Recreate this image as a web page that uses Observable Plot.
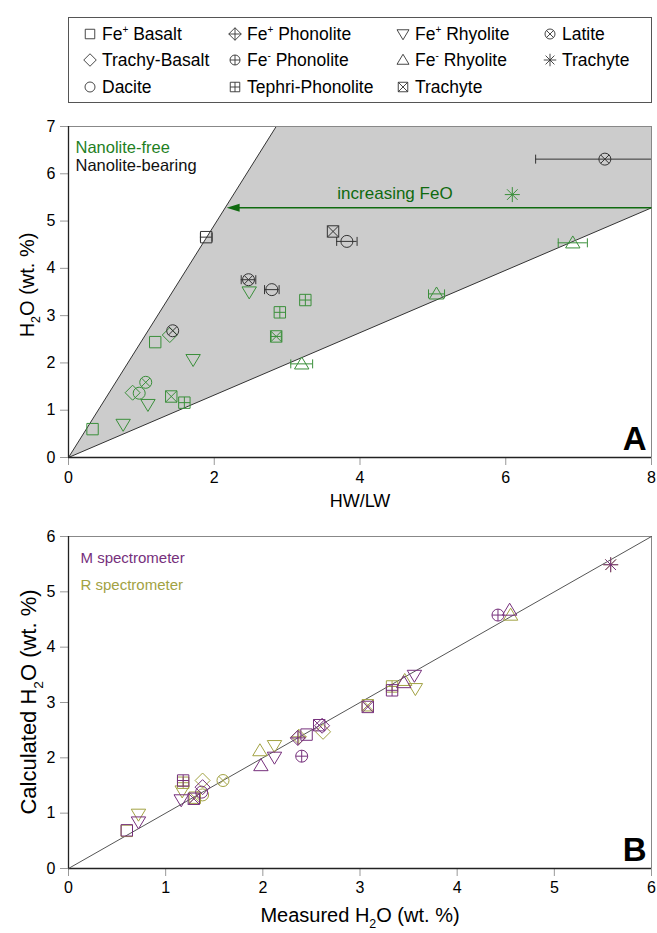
<!DOCTYPE html>
<html><head><meta charset="utf-8">
<script src="https://cdn.jsdelivr.net/npm/d3@7"></script>
<script src="https://cdn.jsdelivr.net/npm/@observablehq/plot@0.6"></script>
<style>
body{margin:0;background:#fff;font-family:"Liberation Sans",Arial,sans-serif;color:#000;}
#wrap{position:relative;width:657px;height:933px;overflow:hidden;}
#legend{position:absolute;left:68px;top:17px;width:584px;height:86px;border:1px solid #555;box-sizing:border-box;}
.li{position:absolute;height:20px;line-height:20px;font-size:17.5px;white-space:nowrap;}
.li svg{position:absolute;left:-9px;top:1px;}
.li span{position:absolute;left:12px;top:0;}
.li sup{font-size:10px;vertical-align:7px;line-height:0;}
#pa{position:absolute;left:0;top:105px;}
#pb{position:absolute;left:0;top:505px;}
</style></head><body>
<div id="wrap">
  <div id="legend"></div>
  <div id="pa"></div>
  <div id="pb"></div>
</div>
<script>
// ---------------- DATA ----------------
// Panel A: HW/LW vs H2O
const typeA = ["FeBasaltP","FeRhyP","TrachyBasalt","Dacite","FeRhyP","Latite","TrachyteX","Tephri","FeRhyP","FeBasaltP","TrachyBasalt","Latite","FeRhyP","Latite","FeBasaltP","TrachyteX","Dacite","Dacite","Tephri","Tephri","TrachyteX","FeRhyM","Latite","TrachyteStar","FeRhyM","FeRhyM"];
const hwlwA = [0.33,0.75,0.88,0.97,1.09,1.06,1.41,1.59,1.71,1.19,1.39,1.43,2.48,2.47,1.89,3.63,3.82,2.79,3.25,2.90,2.85,3.20,7.36,6.09,6.92,5.05];
const h2oA  = [0.60,0.70,1.37,1.36,1.12,1.59,1.29,1.16,2.07,2.44,2.59,2.68,3.50,3.76,4.66,4.78,4.57,3.55,3.33,3.07,2.56,1.98,6.31,5.56,4.54,3.46];
const nanoA = ["free","free","free","free","free","free","free","free","free","free","free","bearing","free","bearing","bearing","bearing","bearing","bearing","free","free","free","free","bearing","free","free","free"];
const errA  = [0,0,0,0,0,0,0,0,0,0,0,0,0,0.10,0.08,0,0.14,0.10,0,0,0.07,0.15,0.95,0,0.20,0.11];
// shaded region vertices and arrow
const regionX = [0,2.85,8,8];
const regionY = [0,7,7,5.28];
const arrowX = [8,2.17];
const arrowY = [5.28,5.28];
const arrowLabel = "increasing FeO";
const arrowLabelX = 4.48;

// Panel B: measured vs calculated H2O
const typeB = ["FeBasaltP","FeBasaltP","FeRhyP","FeRhyP","Tephri","Tephri","FeRhyP","FeRhyP","TrachyteX","TrachyteX","Dacite","Dacite","TrachyBasalt","TrachyBasalt","Latite","FeRhyM","FeRhyM","FeRhyP","FeRhyP","FePhonP","FePhonP","FeBasaltP","FePhonM","TrachyteX","TrachyBasalt","TrachyBasalt","TrachyteX","TrachyteX","Tephri","Tephri","FeRhyM","FeRhyM","FeRhyP","FeRhyP","FePhonM","FeRhyM","FeRhyM","TrachyteStar","TrachyteStar"];
const specB = ["R","M","R","M","R","M","R","M","R","M","R","M","R","M","R","R","M","R","M","R","M","M","M","M","R","M","R","M","R","M","R","M","R","M","M","R","M","R","M"];
const measB = [0.60,0.60,0.72,0.72,1.18,1.18,1.17,1.16,1.30,1.29,1.38,1.37,1.38,1.38,1.59,1.97,1.98,2.12,2.12,2.37,2.36,2.45,2.40,2.58,2.62,2.61,3.08,3.08,3.33,3.33,3.46,3.45,3.57,3.56,4.42,4.55,4.54,5.58,5.58];
const calcB = [0.68,0.69,0.98,0.84,1.55,1.59,1.40,1.24,1.28,1.26,1.33,1.38,1.59,1.47,1.59,2.13,1.86,2.22,2.01,2.38,2.36,2.42,2.03,2.59,2.47,2.58,2.95,2.92,3.29,3.22,3.40,3.36,3.25,3.49,4.58,4.58,4.67,5.49,5.49];
const diagX = [0,6];
const diagY = [0,6];

// Legend
const legendKeys = ["FeBasaltP","TrachyBasalt","Dacite","FePhonP","FePhonM","Tephri","FeRhyP","FeRhyM","TrachyteX","Latite","TrachyteStar"];
const legendNames = ["Fe<sup>+</sup> Basalt","Trachy-Basalt","Dacite","Fe<sup>+</sup> Phonolite","Fe<sup>-</sup> Phonolite","Tephri-Phonolite","Fe<sup>+</sup> Rhyolite","Fe<sup>-</sup> Rhyolite","Trachyte","Latite","Trachyte"];

// axis ticks
const ticksAX = [0,2,4,6,8];
const ticksAY = [0,1,2,3,4,5,6,7];
const ticksB = [0,1,2,3,4,5,6];

// ---------------- STYLE ----------------
const GREEN = "#3a8f3a", BLACK = "#333333", GREENTXT = "#1f7f1f", DKGREEN = "#0f6a0f";
const PURPLE = "#76307c", OLIVE = "#a2a243";
const FONT = "Liberation Sans, Arial, sans-serif";

// ---------------- SYMBOLS ----------------
function S(f){return {draw(ctx,size){const r=Math.sqrt(size/Math.PI); f(ctx,r);}};}
const sq=(c,r)=>{const h=r*0.95;c.moveTo(-h,-h);c.lineTo(h,-h);c.lineTo(h,h);c.lineTo(-h,h);c.closePath();};
const di=(c,r)=>{const d=r*1.25;c.moveTo(0,-d);c.lineTo(d,0);c.lineTo(0,d);c.lineTo(-d,0);c.closePath();};
const ci=(c,r)=>{c.moveTo(r,0);c.arc(0,0,r,0,2*Math.PI);};
const plus=(c,d)=>{c.moveTo(-d,0);c.lineTo(d,0);c.moveTo(0,-d);c.lineTo(0,d);};
const cross=(c,d)=>{c.moveTo(-d,-d);c.lineTo(d,d);c.moveTo(-d,d);c.lineTo(d,-d);};
const symbols = {
  FeBasaltP: S(sq),
  TrachyBasalt: S(di),
  Dacite: S(ci),
  FePhonP: S((c,r)=>{di(c,r);plus(c,r*1.25);}),
  FePhonM: S((c,r)=>{ci(c,r);plus(c,r);}),
  Tephri: S((c,r)=>{sq(c,r);plus(c,r*0.95);}),
  FeRhyP: S((c,r)=>{c.moveTo(-1.2*r,-0.85*r);c.lineTo(1.2*r,-0.85*r);c.lineTo(0,1.15*r);c.closePath();}),
  FeRhyM: S((c,r)=>{c.moveTo(-1.2*r,0.85*r);c.lineTo(1.2*r,0.85*r);c.lineTo(0,-1.15*r);c.closePath();}),
  TrachyteX: S((c,r)=>{sq(c,r);cross(c,r*0.95);}),
  Latite: S((c,r)=>{ci(c,r);cross(c,r*0.707);}),
  TrachyteStar: S((c,r)=>{const d=r*1.25;plus(c,d);cross(c,d*0.707);})
};
const vbar = S((c,r)=>{c.moveTo(0,-r);c.lineTo(0,r);});
const arrowHead = S((c,r)=>{c.moveTo(0,0);c.lineTo(2.6*r,-0.8*r);c.lineTo(2.6*r,0.8*r);c.closePath();});

// ---------------- LEGEND ----------------
const leg = document.getElementById("legend");
const colX = [21,166,334,481], rowY = [16,42,69];
legendKeys.forEach((k,i)=>{
  const col = Math.floor(i/3), row = i%3;
  const div = document.createElement("div");
  div.className = "li";
  div.style.left = colX[col]+"px";
  div.style.top = (rowY[row]-10)+"px";
  const p = d3.path();
  symbols[k].draw(p, Math.PI*5*5);
  div.innerHTML = `<svg width="18" height="18"><path transform="translate(9,9)" d="${p.toString()}" fill="none" stroke="#333" stroke-width="0.9"/></svg><span>${legendNames[i]}</span>`;
  leg.appendChild(div);
});

// ---------------- HELPERS ----------------
function subLabel(svg, parts, x, y, size, rotate){
  const t = d3.select(svg).append("text")
    .attr("font-family", FONT).attr("font-size", size).attr("fill","#000")
    .attr("text-anchor","middle")
    .attr("transform", rotate ? `translate(${x},${y}) rotate(-90)` : `translate(${x},${y})`);
  t.append("tspan").text(parts[0]);
  t.append("tspan").text(parts[1]).attr("font-size", size*0.62).attr("dy", size*0.3);
  t.append("tspan").text(parts[2]).attr("dy", -size*0.3);
}

// ---------------- PANEL A ----------------
const idxA = d3.range(typeA.length);
const colA = i => nanoA[i]==="free" ? GREEN : BLACK;
const errIdx = idxA.filter(i=>errA[i]>0);
const regionPts = regionX.map((x,i)=>[x,regionY[i]]);
const typesUsedA = Array.from(new Set(typeA));

const plotA = Plot.plot({
  width: 657, height: 400,
  marginLeft: 68, marginRight: 6, marginTop: 21, marginBottom: 48,
  style: {fontFamily: FONT, fontSize: "16px", background: "transparent", overflow: "visible"},
  x: {domain: [0,8], label: null},
  y: {domain: [0,7], label: null},
  color: {type: "identity"},
  marks: [
    Plot.line(regionPts, {x: d=>d[0], y: d=>d[1], fill: "#cccccc", stroke: "none"}),
    Plot.line([regionPts[0], regionPts[1]], {x: d=>d[0], y: d=>d[1], stroke: "#333", strokeWidth: 1}),
    Plot.line([regionPts[0], regionPts[3]], {x: d=>d[0], y: d=>d[1], stroke: "#333", strokeWidth: 1}),
    Plot.ruleY([7], {stroke: "#888", strokeWidth: 1}),
    Plot.ruleX([8], {stroke: "#888", strokeWidth: 1}),
    Plot.axisX({ticks: ticksAX, tickFormat: "d", tickSize: 8, tickPadding: 6, fontSize: 16, stroke: "#999", label: null}),
    Plot.axisY({ticks: ticksAY, tickFormat: "d", tickSize: 8, tickPadding: 5, fontSize: 16, stroke: "#999", label: null}),
    Plot.ruleX([0], {stroke: "#222", strokeWidth: 1.3}),
    Plot.ruleY([0], {stroke: "#222", strokeWidth: 1.3}),
    // arrow
    Plot.link([0], {x1: ()=>arrowX[0], y1: ()=>arrowY[0], x2: ()=>arrowX[1]+0.12, y2: ()=>arrowY[1], stroke: DKGREEN, strokeWidth: 1.5}),
    Plot.dot([0], {x: ()=>arrowX[1], y: ()=>arrowY[1], symbol: arrowHead, r: 5, fill: DKGREEN, stroke: "none"}),
    Plot.text([arrowLabel], {x: ()=>arrowLabelX, y: ()=>arrowY[0], dy: -14, fill: DKGREEN, fontSize: 17}),
    // error bars
    Plot.ruleY(errIdx, {y: i=>h2oA[i], x1: i=>hwlwA[i]-errA[i], x2: i=>hwlwA[i]+errA[i], stroke: colA, strokeWidth: 1, clip: true}),
    Plot.dot(errIdx, {x: i=>hwlwA[i]-errA[i], y: i=>h2oA[i], symbol: vbar, r: 4.5, stroke: colA, strokeWidth: 1, clip: true}),
    Plot.dot(errIdx, {x: i=>hwlwA[i]+errA[i], y: i=>h2oA[i], symbol: vbar, r: 4.5, stroke: colA, strokeWidth: 1, clip: true}),
    // points
    ...typesUsedA.map(t => Plot.dot(idxA.filter(i=>typeA[i]===t), {
      x: i=>hwlwA[i], y: i=>h2oA[i], symbol: symbols[t], r: 6, stroke: colA, fill: "none", strokeWidth: 1
    })),
    Plot.text(["Nanolite-free"], {frameAnchor: "top-left", dx: 7, dy: 15, textAnchor: "start", fill: GREENTXT, fontSize: 16.5}),
    Plot.text(["Nanolite-bearing"], {frameAnchor: "top-left", dx: 7, dy: 33, textAnchor: "start", fill: "#111", fontSize: 16.5}),
    Plot.text(["A"], {frameAnchor: "bottom-right", dx: -5, dy: -8, textAnchor: "end", fontSize: 33, fontWeight: "bold", fill: "#000"})
  ]
});
document.getElementById("pa").appendChild(plotA);
subLabel(plotA, ["H","2","O (wt. %)"], 34, 180, 20, true);
d3.select(plotA).append("text").attr("x", 360).attr("y", 402).attr("text-anchor","middle")
  .attr("font-family", FONT).attr("font-size", 18).text("HW/LW");

// ---------------- PANEL B ----------------
const idxB = d3.range(typeB.length);
const colB = i => specB[i]==="M" ? PURPLE : OLIVE;
const orderB = idxB.filter(i=>specB[i]==="R").concat(idxB.filter(i=>specB[i]==="M"));
const typesUsedB = Array.from(new Set(typeB));

const plotB = Plot.plot({
  width: 657, height: 428,
  marginLeft: 68, marginRight: 6, marginTop: 31, marginBottom: 65,
  style: {fontFamily: FONT, fontSize: "16px", background: "transparent", overflow: "visible"},
  x: {domain: [0,6], label: null},
  y: {domain: [0,6], label: null},
  color: {type: "identity"},
  marks: [
    Plot.ruleY([6], {stroke: "#888", strokeWidth: 1}),
    Plot.ruleX([6], {stroke: "#888", strokeWidth: 1}),
    Plot.axisX({ticks: ticksB, tickFormat: "d", tickSize: 8, tickPadding: 5, fontSize: 16, stroke: "#999", label: null}),
    Plot.axisY({ticks: ticksB, tickFormat: "d", tickSize: 8, tickPadding: 5, fontSize: 16, stroke: "#999", label: null}),
    Plot.ruleX([0], {stroke: "#222", strokeWidth: 1.3}),
    Plot.ruleY([0], {stroke: "#222", strokeWidth: 1.3}),
    Plot.line(diagX.map((x,i)=>[x,diagY[i]]), {x: d=>d[0], y: d=>d[1], stroke: "#555", strokeWidth: 1}),
    ...["R","M"].flatMap(s => typesUsedB.map(t => Plot.dot(orderB.filter(i=>typeB[i]===t && specB[i]===s), {
      x: i=>measB[i], y: i=>calcB[i], symbol: symbols[t], r: 6, stroke: colB, fill: "none", strokeWidth: 1
    }))),
    Plot.text(["M spectrometer"], {frameAnchor: "top-left", dx: 12, dy: 16, textAnchor: "start", fill: PURPLE, fontSize: 15}),
    Plot.text(["R spectrometer"], {frameAnchor: "top-left", dx: 12, dy: 43, textAnchor: "start", fill: OLIVE, fontSize: 15}),
    Plot.text(["B"], {frameAnchor: "bottom-right", dx: -5, dy: -8, textAnchor: "end", fontSize: 33, fontWeight: "bold", fill: "#000"})
  ]
});
document.getElementById("pb").appendChild(plotB);
subLabel(plotB, ["Measured H","2","O (wt. %)"], 360, 417, 20, false);
subLabel(plotB, ["Calculated H","2","O (wt. %)"], 36, 197, 22, true);
</script>
</body></html>
